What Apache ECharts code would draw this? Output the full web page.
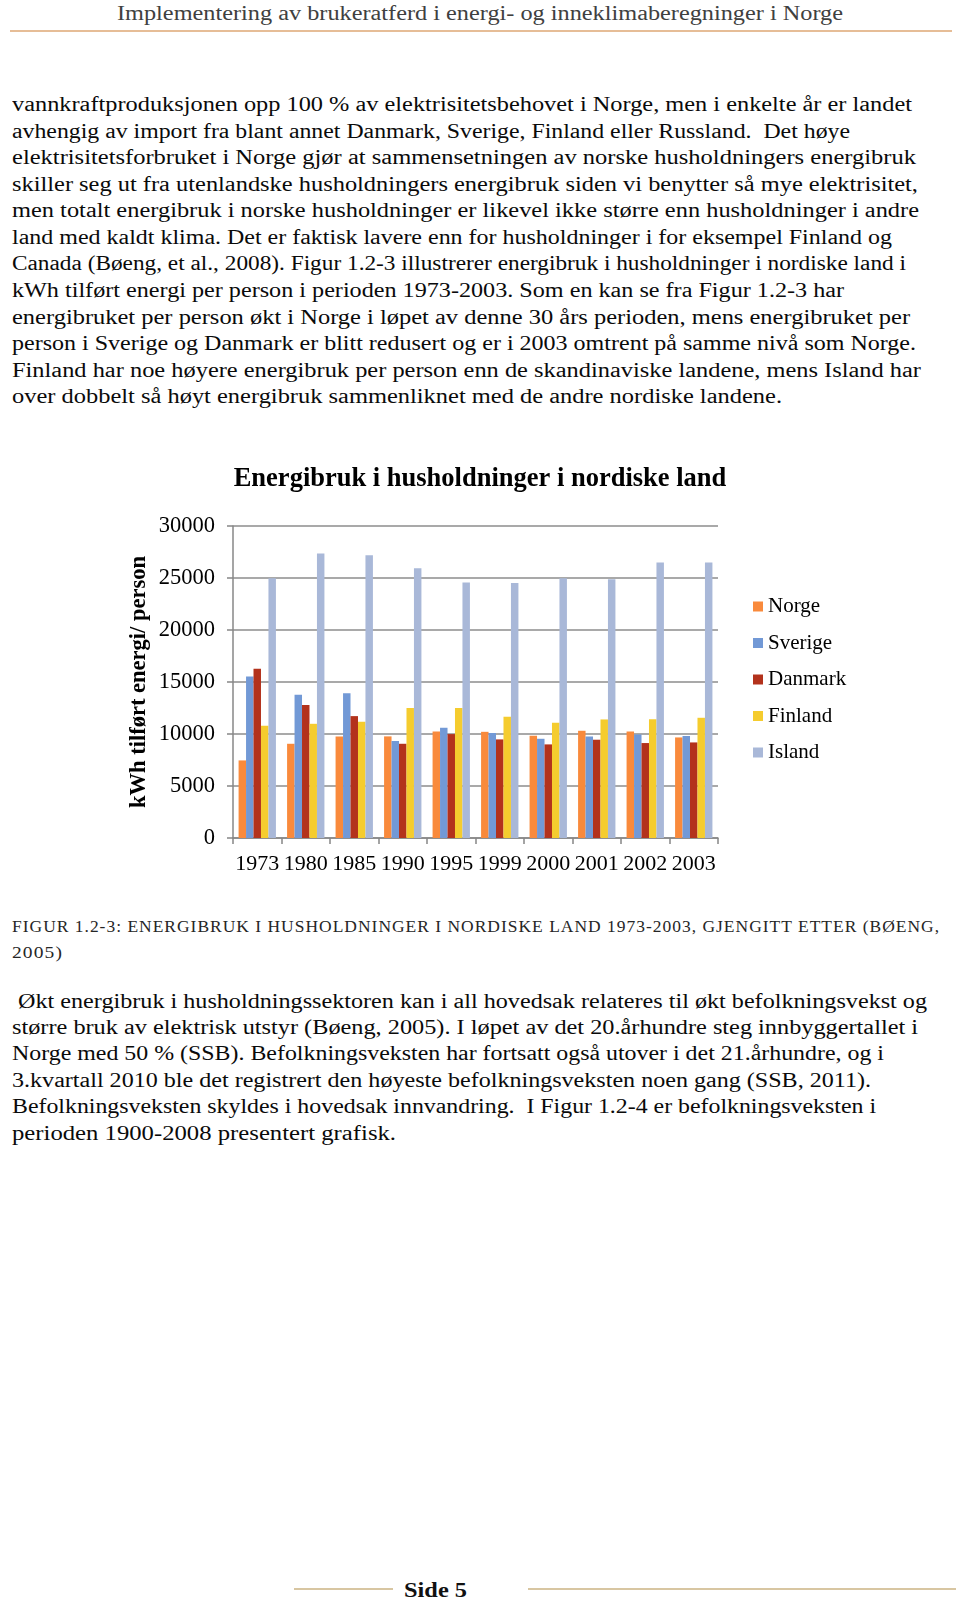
<!DOCTYPE html>
<html>
<head>
<meta charset="utf-8">
<script src="https://cdn.jsdelivr.net/npm/echarts@6/dist/echarts.min.js"></script>
<style>
  html, body { margin: 0; padding: 0; background: #fff; }
  #page { position: relative; width: 960px; height: 1601px; overflow: hidden; background: #fff; }
  .ln { position: absolute; white-space: pre; font-family: "Liberation Serif", serif; font-size: 20px; line-height: 24px; color: #0a0a0a; transform-origin: 0 50%; }
  .hdr { color: #404040; font-size: 20px; }
  .cap { color: #262626; font-size: 17.5px; letter-spacing: 1px; }
  .rule { position: absolute; height: 2px; }
  #chart { position: absolute; left: 0; top: 440px; width: 960px; height: 450px; }
</style>
</head>
<body>
<div id="page">
  <div id="chart"></div>
</div>
<script>
// ---- chart data ----
const categories = ['1973', '1980', '1985', '1990', '1995', '1999', '2000', '2001', '2002', '2003'];
const seriesNames = ['Norge', 'Sverige', 'Danmark', 'Finland', 'Island'];
const norge   = [7460, 9060, 9770, 9770, 10250, 10210, 9830, 10310, 10250, 9670];
const sverige = [15530, 13770, 13930, 9320, 10600, 10090, 9540, 9770, 9960, 9800];
const danmark = [16270, 12780, 11720, 9060, 9990, 9480, 9000, 9450, 9130, 9190];
const finland = [10790, 10980, 11180, 12490, 12490, 11660, 11080, 11400, 11430, 11560];
const island  = [24980, 27350, 27190, 25940, 24560, 24530, 24980, 24880, 26480, 26480];
const seriesColors = ['#F98A3C', '#7299D6', '#B3321C', '#F5CC2E', '#A9B8D8'];
const chartTitle = 'Energibruk i husholdninger i nordiske land';
const yAxisName = 'kWh tilført energi/ person';

// ---- page text (each line with its y centre and right end) ----
const pageLines = [
  ['hdr', 'Implementering av brukeratferd i energi- og inneklimaberegninger i Norge', 117, 13, 843],
  ['', 'vannkraftproduksjonen opp 100 % av elektrisitetsbehovet i Norge, men i enkelte år er landet', 12, 104, 912],
  ['', 'avhengig av import fra blant annet Danmark, Sverige, Finland eller Russland.  Det høye', 12, 131, 850],
  ['', 'elektrisitetsforbruket i Norge gjør at sammensetningen av norske husholdningers energibruk', 12, 157, 916],
  ['', 'skiller seg ut fra utenlandske husholdningers energibruk siden vi benytter så mye elektrisitet,', 12, 184, 918],
  ['', 'men totalt energibruk i norske husholdninger er likevel ikke større enn husholdninger i andre', 12, 210, 919],
  ['', 'land med kaldt klima. Det er faktisk lavere enn for husholdninger i for eksempel Finland og', 12, 237, 892],
  ['', 'Canada (Bøeng, et al., 2008). Figur 1.2-3 illustrerer energibruk i husholdninger i nordiske land i', 12, 263, 906],
  ['', 'kWh tilført energi per person i perioden 1973-2003. Som en kan se fra Figur 1.2-3 har', 12, 290, 844],
  ['', 'energibruket per person økt i Norge i løpet av denne 30 års perioden, mens energibruket per', 12, 317, 910],
  ['', 'person i Sverige og Danmark er blitt redusert og er i 2003 omtrent på samme nivå som Norge.', 12, 343, 916],
  ['', 'Finland har noe høyere energibruk per person enn de skandinaviske landene, mens Island har', 12, 370, 921],
  ['', 'over dobbelt så høyt energibruk sammenliknet med de andre nordiske landene.', 12, 396, 782],
  ['cap', 'FIGUR 1.2-3: ENERGIBRUK I HUSHOLDNINGER I NORDISKE LAND 1973-2003, GJENGITT ETTER (BØENG,', 12, 926, 940],
  ['cap', '2005)', 12, 952, 63],
  ['', ' Økt energibruk i husholdningssektoren kan i all hovedsak relateres til økt befolkningsvekst og', 12, 1001, 927],
  ['', 'større bruk av elektrisk utstyr (Bøeng, 2005). I løpet av det 20.århundre steg innbyggertallet i', 12, 1027, 918],
  ['', 'Norge med 50 % (SSB). Befolkningsveksten har fortsatt også utover i det 21.århundre, og i', 12, 1053, 884],
  ['', '3.kvartall 2010 ble det registrert den høyeste befolkningsveksten noen gang (SSB, 2011).', 12, 1080, 871],
  ['', 'Befolkningsveksten skyldes i hovedsak innvandring.  I Figur 1.2-4 er befolkningsveksten i', 12, 1106, 876],
  ['', 'perioden 1900-2008 presentert grafisk.', 12, 1133, 396],
  ['foot', 'Side 5', 404, 1590, 467]
];

const page = document.getElementById('page');
function rule(x1, x2, y, color) {
  const d = document.createElement('div');
  d.className = 'rule';
  d.style.left = x1 + 'px'; d.style.width = (x2 - x1) + 'px';
  d.style.top = (y - 1) + 'px'; d.style.background = color;
  page.appendChild(d);
}
rule(10, 952, 31, '#E6BD97');
rule(294, 393, 1589, '#D8C6A2');
rule(528, 956, 1589, '#D8C6A2');

pageLines.forEach(([cls, txt, x, y, xEnd]) => {
  const d = document.createElement('div');
  d.className = 'ln ' + cls;
  if (cls === 'foot') { d.style.fontWeight = 'bold'; d.style.fontSize = '22px'; d.style.color = '#111'; }
  d.textContent = txt;
  d.style.left = x + 'px';
  d.style.top = (y - 12) + 'px';
  page.appendChild(d);
  const w = d.getBoundingClientRect().width;
  if (w > 0) d.style.transform = 'scaleX(' + ((xEnd - x) / w).toFixed(4) + ')';
});

// ---- chart ----
const FONT = '"Liberation Serif", serif';
const chart = echarts.init(document.getElementById('chart'), null, { renderer: 'canvas' });
const values = [norge, sverige, danmark, finland, island];
chart.setOption({
  animation: false,
  backgroundColor: 'transparent',
  title: {
    text: chartTitle,
    left: 'center',
    top: 21,
    textStyle: { fontFamily: FONT, fontSize: 26.5, fontWeight: 'bold', color: '#000' }
  },
  legend: {
    orient: 'vertical',
    left: 748,
    top: 151,
    itemWidth: 10,
    itemHeight: 10,
    itemGap: 15.5,
    icon: 'rect',
    data: seriesNames,
    textStyle: { fontFamily: FONT, fontSize: 21, lineHeight: 21, color: '#000' }
  },
  grid: { left: 233, top: 86, width: 485, height: 312, containLabel: false },
  xAxis: {
    type: 'category',
    data: categories,
    axisLine: { show: true, lineStyle: { color: '#878787', width: 1.5 } },
    axisTick: { show: true, length: 6, interval: 0, alignWithLabel: false, lineStyle: { color: '#878787', width: 1.5 } },
    axisLabel: { interval: 0, margin: 15, fontFamily: FONT, fontSize: 22, color: '#000' }
  },
  yAxis: {
    type: 'value',
    min: 0, max: 30000, interval: 5000,
    name: yAxisName,
    nameLocation: 'middle',
    nameGap: 82,
    nameMoveOverlap: false,
    nameTextStyle: { fontFamily: FONT, fontSize: 22.5, fontWeight: 'bold', color: '#000' },
    axisLine: { show: true, lineStyle: { color: '#878787', width: 1.5 } },
    axisTick: { show: true, length: 6, lineStyle: { color: '#878787', width: 1.5 } },
    axisLabel: { margin: 18, fontFamily: FONT, fontSize: 22.5, color: '#000', formatter: v => String(v) },
    splitLine: { show: true, lineStyle: { color: '#8C8C8C', width: 1.5 } }
  },
  series: seriesNames.map((name, i) => ({
    name: name,
    type: 'bar',
    data: values[i],
    barGap: '0%',
    barCategoryGap: '23%',
    itemStyle: { color: seriesColors[i] }
  }))
});
</script>
</body>
</html>
